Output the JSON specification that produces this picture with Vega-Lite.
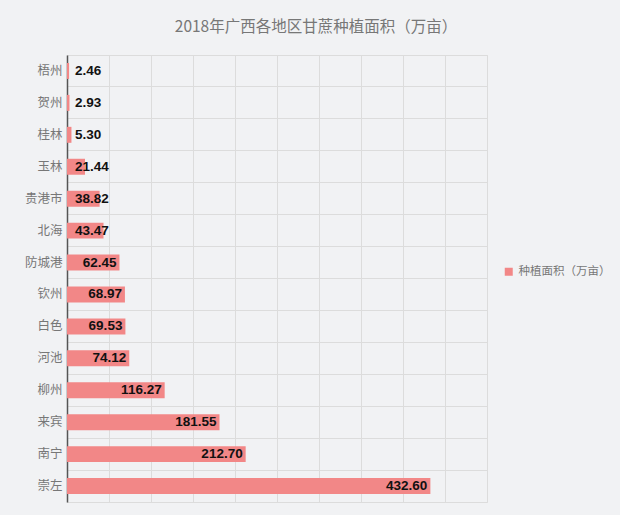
{
  "$schema": "https://vega.github.io/schema/vega-lite/v6.json",
  "width": 420,
  "height": 447,
  "autosize": {"type": "none"},
  "padding": {"left": 67, "top": 55, "right": 133, "bottom": 13},
  "background": "#f1f2f4",
  "title": {
    "text": "2018年广西各地区甘蔗种植面积（万亩）",
    "anchor": "middle",
    "frame": "group",
    "dx": 39,
    "offset": 20,
    "fontSize": 15.5,
    "font": "Noto Sans CJK SC",
    "fontWeight": "normal",
    "color": "#777777"
  },
  "data": {
    "values": [
      {"region": "梧州", "area": 2.46},
      {"region": "贺州", "area": 2.93},
      {"region": "桂林", "area": 5.30},
      {"region": "玉林", "area": 21.44},
      {"region": "贵港市", "area": 38.82},
      {"region": "北海", "area": 43.47},
      {"region": "防城港", "area": 62.45},
      {"region": "钦州", "area": 68.97},
      {"region": "白色", "area": 69.53},
      {"region": "河池", "area": 74.12},
      {"region": "柳州", "area": 116.27},
      {"region": "来宾", "area": 181.55},
      {"region": "南宁", "area": 212.70},
      {"region": "崇左", "area": 432.60}
    ]
  },
  "encoding": {
    "y": {
      "field": "region",
      "type": "nominal",
      "sort": ["梧州", "贺州", "桂林", "玉林", "贵港市", "北海", "防城港", "钦州", "白色", "河池", "柳州", "来宾", "南宁", "崇左"],
      "scale": {"paddingInner": 0, "paddingOuter": 0},
      "axis": {
        "title": null,
        "ticks": false,
        "grid": true,
        "bandPosition": 0,
        "gridColor": "#dcdcdc",
        "domainColor": "#555555",
        "domainWidth": 1.5,
        "labelColor": "#777777",
        "labelFont": "Noto Sans CJK SC",
        "labelFontSize": 12.5,
        "labelPadding": 5
      }
    }
  },
  "layer": [
    {
      "mark": {"type": "bar", "height": {"band": 0.5}, "color": "#f28787"},
      "encoding": {
        "x": {
          "field": "area",
          "type": "quantitative",
          "scale": {"domain": [0, 500], "nice": false},
          "axis": {
            "title": null,
            "labels": false,
            "ticks": false,
            "domain": false,
            "grid": true,
            "gridColor": "#dcdcdc",
            "values": [0, 50, 100, 150, 200, 250, 300, 350, 400, 450, 500]
          }
        },
        "color": {
          "datum": "种植面积（万亩）",
          "type": "nominal",
          "scale": {"range": ["#f28787"]},
          "legend": {
            "title": null,
            "orient": "none",
            "legendX": 436,
            "legendY": 211,
            "symbolType": "square",
            "symbolSize": 64,
            "labelColor": "#777777",
            "labelFont": "Noto Sans CJK SC",
            "labelFontSize": 11.5,
            "padding": 0
          }
        }
      }
    },
    {
      "transform": [{"filter": "datum.area >= 50"}],
      "mark": {"type": "text", "align": "right", "dx": -3, "fontWeight": "bold", "fontSize": 13.5, "font": "Liberation Sans", "color": "#111111"},
      "encoding": {
        "x": {"field": "area", "type": "quantitative"},
        "text": {"field": "area", "type": "quantitative", "format": ".2f"}
      }
    },
    {
      "transform": [{"filter": "datum.area < 50"}],
      "mark": {"type": "text", "align": "left", "dx": 8, "fontWeight": "bold", "fontSize": 13.5, "font": "Liberation Sans", "color": "#111111"},
      "encoding": {
        "x": {"datum": 0, "type": "quantitative"},
        "text": {"field": "area", "type": "quantitative", "format": ".2f"}
      }
    }
  ],
  "config": {
    "view": {"stroke": "#dcdcdc"}
  }
}
